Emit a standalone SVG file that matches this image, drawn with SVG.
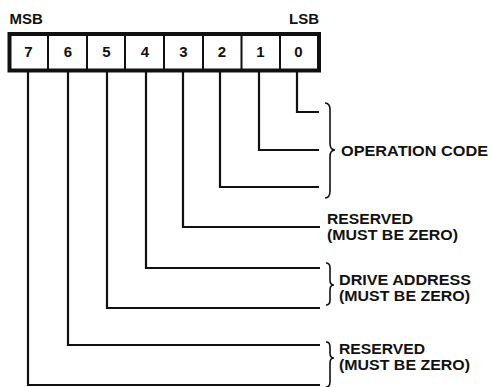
<svg xmlns="http://www.w3.org/2000/svg" width="492" height="387" viewBox="0 0 492 387">
<style>
text{font-family:"Liberation Sans",Arial,sans-serif;font-weight:bold;fill:#111}
.lbl{font-size:15.5px}
.two{font-size:14px}
.hdr{font-size:15px}
.dig{font-size:15px;text-anchor:middle}
.conn{fill:none;stroke:#111;stroke-width:2.2}
.brace{fill:none;stroke:#111;stroke-width:1.6}
</style>
<rect width="492" height="387" fill="#fff"/>
<g id="register">
<text class="hdr" x="9.5" y="24">MSB</text>
<text class="hdr" x="319" y="24" text-anchor="end">LSB</text>
<rect x="9.5" y="34" width="309.5" height="36.5" fill="none" stroke="#111" stroke-width="4"/>
<g stroke="#111" stroke-width="2">
<line x1="48" y1="34" x2="48" y2="70"/>
<line x1="87" y1="34" x2="87" y2="70"/>
<line x1="125" y1="34" x2="125" y2="70"/>
<line x1="164" y1="34" x2="164" y2="70"/>
<line x1="203" y1="34" x2="203" y2="70"/>
<line x1="241.5" y1="34" x2="241.5" y2="70"/>
<line x1="280" y1="34" x2="280" y2="70"/>
</g>
<text class="dig" x="28.5" y="57">7</text>
<text class="dig" x="68" y="57">6</text>
<text class="dig" x="106.5" y="57">5</text>
<text class="dig" x="145" y="57">4</text>
<text class="dig" x="183.5" y="57">3</text>
<text class="dig" x="222" y="57">2</text>
<text class="dig" x="260.5" y="57">1</text>
<text class="dig" x="298.5" y="57">0</text>
</g>
<g id="connectors">
<path class="conn" d="M297 72 V112 H319"/>
<path class="conn" d="M259 72 V150 H319"/>
<path class="conn" d="M220 72 V187 H319"/>
<path class="conn" d="M183 72 V227 H320"/>
<path class="conn" d="M146 72 V268 H320"/>
<path class="conn" d="M107 72 V308 H320"/>
<path class="conn" d="M68 72 V345 H320"/>
<path class="conn" d="M28 72 V385 H320"/>
</g>
<g id="opcode">
<path class="brace" d="M325 103 Q330 103 330 110 L330 143 Q330 150 335 150 Q330 150 330 157 L330 191 Q330 198 325 198"/>
<text class="lbl" x="341" y="156" textLength="147" lengthAdjust="spacingAndGlyphs">OPERATION CODE</text>
</g>
<g id="reserved-bit3">
<text class="two" x="327" y="223.5" textLength="86" lengthAdjust="spacingAndGlyphs">RESERVED</text>
<text class="two" x="327" y="239.5" textLength="131" lengthAdjust="spacingAndGlyphs">(MUST BE ZERO)</text>
</g>
<g id="drive-address">
<path class="brace" d="M326 263 Q330 263 330 268 L330 280 Q330 285 334 285 Q330 285 330 290 L330 300 Q330 305 326 305"/>
<text class="two" x="339" y="284.5" textLength="132" lengthAdjust="spacingAndGlyphs">DRIVE ADDRESS</text>
<text class="two" x="339" y="300.5" textLength="131" lengthAdjust="spacingAndGlyphs">(MUST BE ZERO)</text>
</g>
<g id="reserved-bits67">
<path class="brace" d="M326 342 Q330 342 330 347 L330 353 Q330 358 334 358 Q330 358 330 363 L330 382 Q330 387 326 387"/>
<text class="two" x="339" y="353.5" textLength="86" lengthAdjust="spacingAndGlyphs">RESERVED</text>
<text class="two" x="339" y="369.5" textLength="131" lengthAdjust="spacingAndGlyphs">(MUST BE ZERO)</text>
</g>
</svg>
